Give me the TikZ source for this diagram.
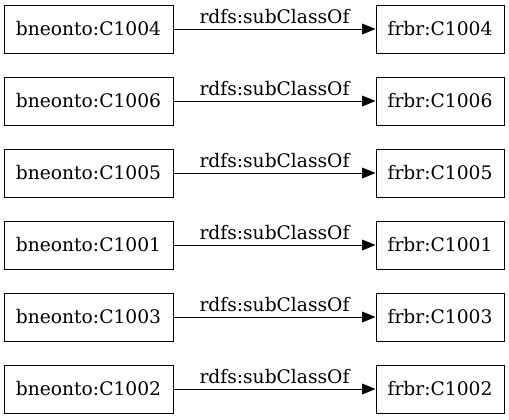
\documentclass[tikz,border=0pt]{standalone}
\usepackage{fontspec}
\setmainfont{DejaVu Serif}
\usetikzlibrary{arrows.meta}

\newcommand*{\rowgap}{72}
\newcommand*{\toprow}{29}

\begin{document}
\begin{tikzpicture}
[
	cls/.style={draw,rectangle,inner sep=0pt,minimum height=36pt,line width=0.75pt},
	rel/.style={-{Triangle[length=10pt,width=8pt]},line width=0.75pt},
	x=0.75pt,y=-0.75pt,
	font=\fontsize{14}{16}\selectfont
]
	\useasboundingbox (0,0) rectangle (509,419);

	% classes and their subclass links
	\foreach \id [count=\i from 0] in {1004,1006,1005,1001,1003,1002} {
		\node[cls,minimum width=126.75pt] (b\id) at (88.5,\toprow+\rowgap*\i) {bneonto:C\id};
		\node[cls,minimum width=96pt] (f\id) at (440,\toprow+\rowgap*\i) {frbr:C\id};
		\draw[rel] (b\id) -- node[above] {rdfs:subClassOf} (f\id);
	}

\end{tikzpicture}
\end{document}
